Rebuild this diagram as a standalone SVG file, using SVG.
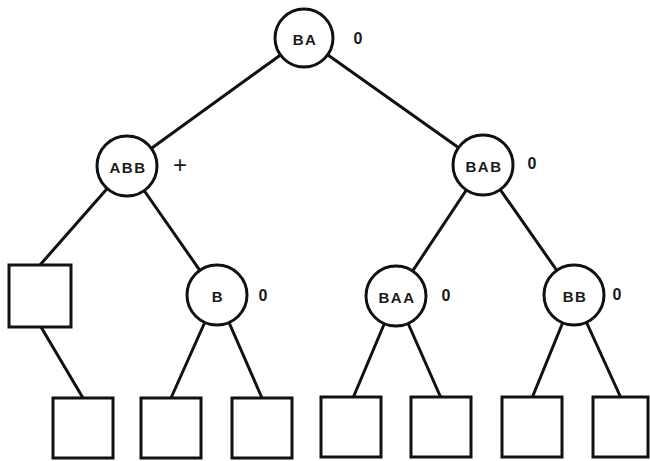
<svg xmlns="http://www.w3.org/2000/svg" width="650" height="461" viewBox="0 0 650 461">
  <style>
    .edge { stroke: #111; stroke-width: 3; fill: none; stroke-linecap: round; }
    .node { fill: #fff; stroke: #111; stroke-width: 3; }
    .lbl { font-family: "Liberation Sans", Arial, sans-serif; font-weight: bold; font-size: 15px; letter-spacing: 1.5px; fill: #1a1a1a; text-anchor: middle; dominant-baseline: central; }
    .val { font-family: "Liberation Sans", Arial, sans-serif; font-weight: bold; font-size: 16px; fill: #1a1a1a; text-anchor: middle; dominant-baseline: central; }
    .plus { font-family: "Liberation Sans", Arial, sans-serif; font-size: 24px; fill: #1a1a1a; text-anchor: middle; dominant-baseline: central; }
  </style>
  <rect width="650" height="461" fill="#fff"/>

  <g id="connectors">
    <line class="edge" x1="304" y1="38" x2="127" y2="166"/>
    <line class="edge" x1="304" y1="38" x2="483" y2="165"/>
    <line class="edge" x1="127" y1="166" x2="40" y2="265"/>
    <line class="edge" x1="127" y1="166" x2="217" y2="295"/>
    <line class="edge" x1="483" y1="165" x2="396" y2="296"/>
    <line class="edge" x1="483" y1="165" x2="574" y2="295"/>
    <line class="edge" x1="41" y1="327" x2="83" y2="398"/>
    <line class="edge" x1="217" y1="295" x2="171" y2="398"/>
    <line class="edge" x1="217" y1="295" x2="262" y2="398"/>
    <line class="edge" x1="396" y1="296" x2="353" y2="398"/>
    <line class="edge" x1="396" y1="296" x2="441" y2="398"/>
    <line class="edge" x1="574" y1="295" x2="532" y2="398"/>
    <line class="edge" x1="574" y1="295" x2="621" y2="398"/>
  </g>

  <g id="n-BA">
    <circle class="node" cx="304" cy="38" r="29"/>
    <text class="lbl" x="305" y="39">BA</text>
    <text class="val" x="358" y="38">0</text>
  </g>
  <g id="n-ABB">
    <circle class="node" cx="127" cy="166" r="30"/>
    <text class="lbl" x="128" y="167">ABB</text>
    <text class="plus" x="180" y="164">+</text>
  </g>
  <g id="n-BAB">
    <circle class="node" cx="483" cy="165" r="30"/>
    <text class="lbl" x="484" y="166">BAB</text>
    <text class="val" x="532" y="163">0</text>
  </g>
  <g id="n-leaf-L">
    <rect class="node" x="9" y="265" width="62" height="62"/>
  </g>
  <g id="n-B">
    <circle class="node" cx="217" cy="295" r="30"/>
    <text class="lbl" x="218" y="296">B</text>
    <text class="val" x="263" y="295">0</text>
  </g>
  <g id="n-BAA">
    <circle class="node" cx="396" cy="296" r="30"/>
    <text class="lbl" x="397" y="297">BAA</text>
    <text class="val" x="446" y="295">0</text>
  </g>
  <g id="n-BB">
    <circle class="node" cx="574" cy="295" r="30"/>
    <text class="lbl" x="575" y="296">BB</text>
    <text class="val" x="617" y="294">0</text>
  </g>

  <g id="n-leaf-1"><rect class="node" x="53" y="398" width="60" height="60"/></g>
  <g id="n-leaf-2"><rect class="node" x="141" y="398" width="60" height="60"/></g>
  <g id="n-leaf-3"><rect class="node" x="232" y="398" width="60" height="60"/></g>
  <g id="n-leaf-4"><rect class="node" x="321" y="397" width="60" height="60"/></g>
  <g id="n-leaf-5"><rect class="node" x="411" y="397" width="60" height="60"/></g>
  <g id="n-leaf-6"><rect class="node" x="502" y="397" width="60" height="60"/></g>
  <g id="n-leaf-7"><rect class="node" x="593" y="397" width="55" height="60"/></g>
</svg>
